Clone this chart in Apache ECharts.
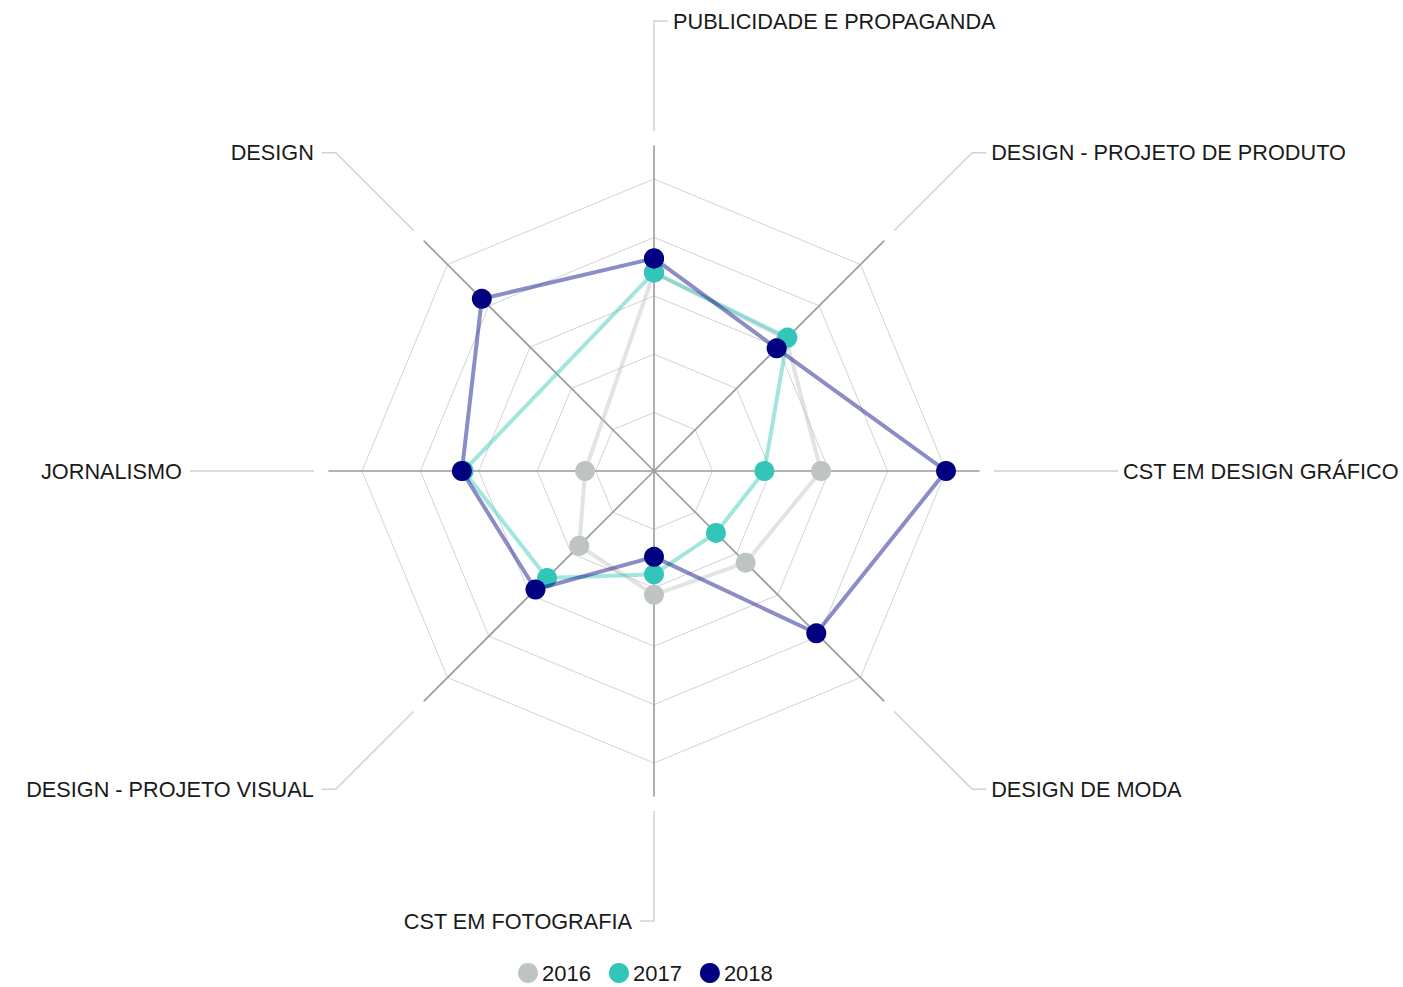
<!DOCTYPE html>
<html>
<head>
<meta charset="utf-8">
<script src="https://cdn.jsdelivr.net/npm/echarts@6/dist/echarts.min.js"></script>
<style>
html,body{margin:0;padding:0;background:#fff;}
#chart{width:1403px;height:987px;}
</style>
</head>
<body>
<div id="chart"></div>
<script>
// ---- data ----
const categories = [
  'PUBLICIDADE E PROPAGANDA',
  'DESIGN - PROJETO DE PRODUTO',
  'CST EM DESIGN GRÁFICO',
  'DESIGN DE MODA',
  'CST EM FOTOGRAFIA',
  'DESIGN - PROJETO VISUAL',
  'JORNALISMO',
  'DESIGN'
];
const seriesNames = ['2016', '2017', '2018'];
const values2016 = [34.0, 32.0, 28.6, 22.2, 21.2, 18.1, 11.8, null];
const values2017 = [34.0, 32.3, 18.9, 15.0, 17.7, 25.9, 32.6, null];
const values2018 = [36.4, 29.7, 50.0, 39.3, 14.7, 28.7, 32.9, 41.7];
const axisMax = 50;

// ---- layout / style ----
const CX = 654, CY = 471;
const R_GRID = 292, R_AXIS = 325;
const LEAD_START = 340, LEAD_END = 450, ELBOW = 14, GAP_RIGHT = 19, GAP_LEFT = 22;
const FONT = "'Liberation Sans', Arial, sans-serif";
const colors = ['#BEC4C4', '#33C5B9', '#000080'];
const STEP = 360 / categories.length; // angle of one category on the value angle axis

// missing values are left out, so the line joins the neighbouring points;
// the first point is repeated at the end to close the shape
function buildData(vals) {
  const d = [];
  vals.forEach((v, i) => { if (v !== null && v !== undefined) d.push([v, i * STEP]); });
  d.push(d[0].slice());
  return d;
}

const allValues = [values2016, values2017, values2018];
const series = seriesNames.map((name, k) => ({
  type: 'line',
  name: name,
  coordinateSystem: 'polar',
  data: buildData(allValues[k]),
  clip: false,
  symbol: 'circle',
  symbolSize: 20,
  showSymbol: true,
  showAllSymbol: true,
  itemStyle: { color: colors[k], opacity: 1 },
  lineStyle: { color: colors[k], width: 4, opacity: 0.45 },
  z: 3 + k,
  emphasis: { disabled: true }
}));

// axis name labels with leader lines (decoration placed from layout constants)
const graphics = [];
categories.forEach((name, i) => {
  const th = (90 - i * STEP) * Math.PI / 180;
  const c = Math.cos(th), s = Math.sin(th);
  const p1 = [CX + LEAD_START * c, CY - LEAD_START * s];
  const p2 = [CX + LEAD_END * c, CY - LEAD_END * s];
  const side = c > 0.01 ? 1 : (c < -0.01 ? -1 : (s > 0 ? 1 : -1));
  const p3 = [p2[0] + side * ELBOW, p2[1]];
  graphics.push({
    type: 'polyline',
    shape: { points: [p1, p2, p3] },
    style: { stroke: '#d2d2d2', lineWidth: 1.5, fill: null },
    silent: true
  });
  graphics.push({
    type: 'text',
    x: p2[0] + side * (side > 0 ? GAP_RIGHT : GAP_LEFT),
    y: p2[1],
    style: {
      text: name,
      fill: '#1a1a1a',
      font: '21.7px ' + FONT,
      textAlign: side > 0 ? 'left' : 'right',
      textVerticalAlign: 'middle',
      verticalAlign: 'middle'
    },
    silent: true
  });
});

const indicators = categories.map(n => ({ name: n, max: axisMax, min: 0 }));

const option = {
  backgroundColor: '#ffffff',
  animation: false,
  textStyle: { fontFamily: FONT },
  legend: {
    data: seriesNames,
    left: 518,
    top: 962,
    icon: 'circle',
    itemWidth: 20,
    itemHeight: 20,
    itemGap: 18,
    padding: 0,
    textStyle: { fontSize: 22, color: '#1a1a1a', fontFamily: FONT, padding: [0, 0, 0, -1] }
  },
  radar: [
    {
      center: [CX, CY],
      radius: R_GRID,
      splitNumber: 5,
      indicator: indicators,
      shape: 'polygon',
      axisName: { show: false },
      axisLine: { show: false },
      axisTick: { show: false },
      axisLabel: { show: false },
      splitArea: { show: false },
      splitLine: { show: true, lineStyle: { color: '#d3d3d3', width: 1 } }
    },
    {
      center: [CX, CY],
      radius: R_AXIS,
      splitNumber: 1,
      indicator: indicators,
      shape: 'polygon',
      axisName: { show: false },
      axisLine: { show: true, lineStyle: { color: '#9a9a9a', width: 1.6 } },
      axisTick: { show: false },
      axisLabel: { show: false },
      splitArea: { show: false },
      splitLine: { show: false }
    }
  ],
  polar: { center: [CX, CY], radius: R_GRID },
  angleAxis: {
    type: 'value',
    min: 0,
    max: 360,
    startAngle: 90,
    clockwise: true,
    show: false
  },
  radiusAxis: { type: 'value', min: 0, max: axisMax, show: false },
  graphic: graphics,
  series: series
};

const chart = echarts.init(document.getElementById('chart'), null, { renderer: 'svg' });
chart.setOption(option);
</script>
</body>
</html>
